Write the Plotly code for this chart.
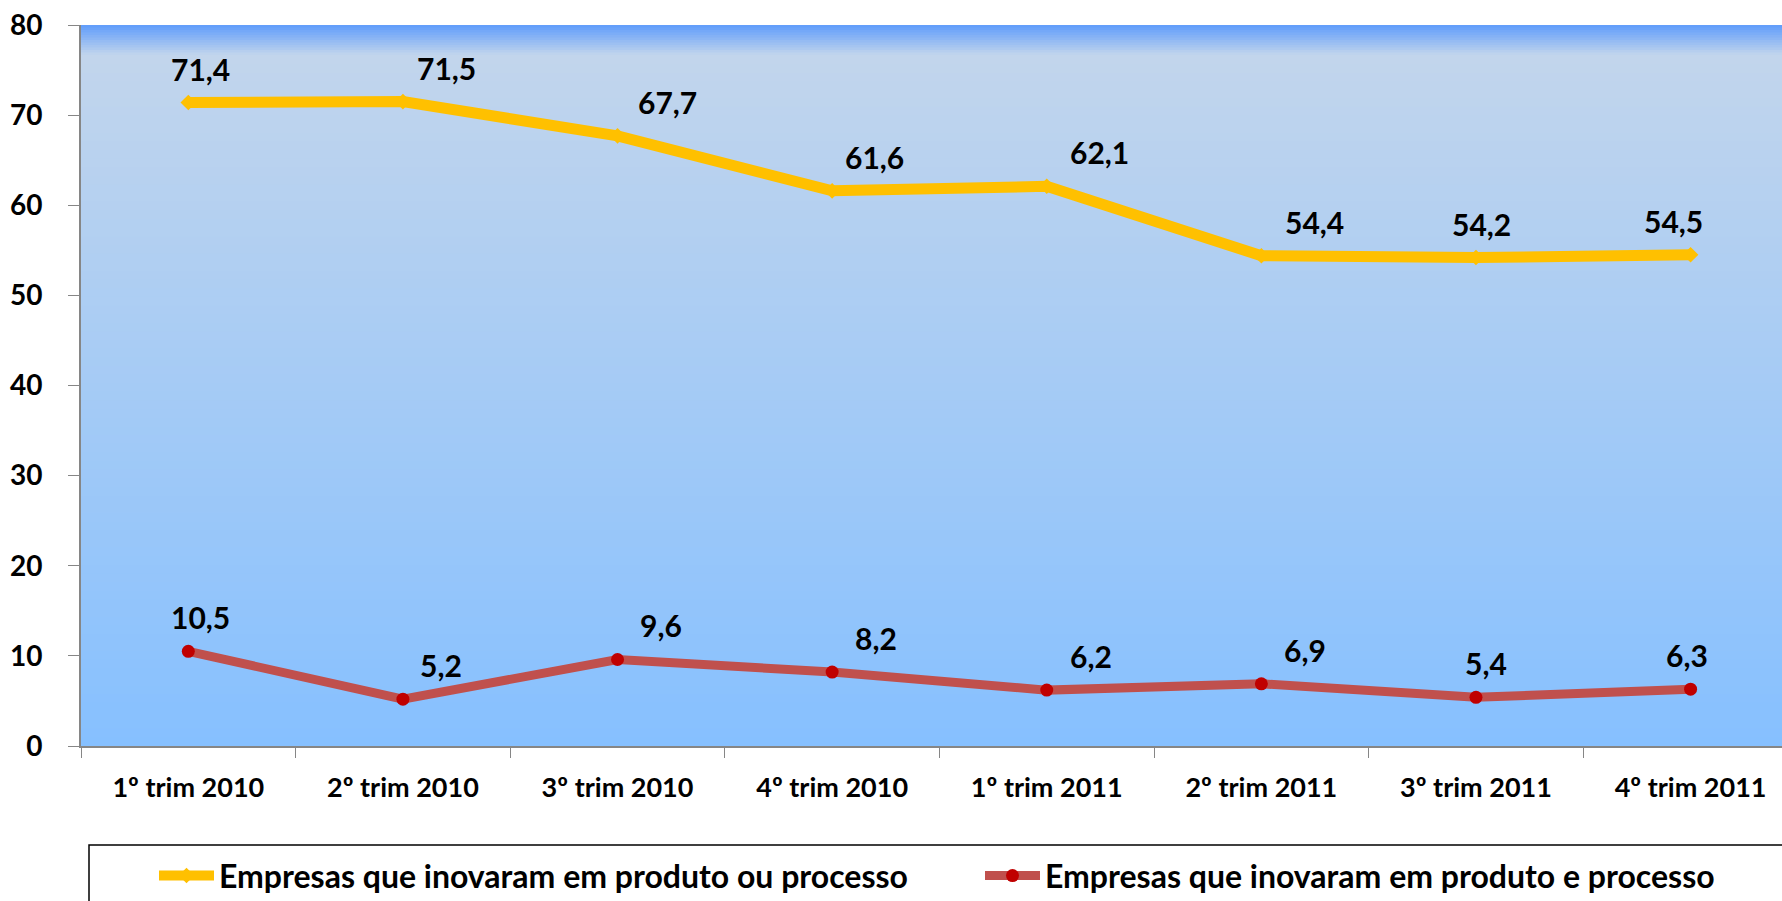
import plotly.graph_objects as go

categories = ["1º trim 2010", "2º trim 2010", "3º trim 2010", "4º trim 2010",
              "1º trim 2011", "2º trim 2011", "3º trim 2011", "4º trim 2011"]
produto_ou_processo = [71.4, 71.5, 67.7, 61.6, 62.1, 54.4, 54.2, 54.5]
produto_e_processo = [10.5, 5.2, 9.6, 8.2, 6.2, 6.9, 5.4, 6.3]
name_ou = "Empresas que inovaram em produto ou processo"
name_e = "Empresas que inovaram em produto e processo"

FONT = "Lato"
YELLOW, RED_LINE, RED_MARK = "#FFC000", "#C0504D", "#C00000"

# label placement styles (anchor, horizontal shift in px)
label_style_ou = [("center", 12), ("left", 12), ("left", 18), ("left", 11),
                  ("left", 21), ("left", 22), ("center", 6), ("center", -17)]
label_style_e = [("center", 12), ("left", 15), ("left", 20), ("left", 21),
                 ("left", 21), ("left", 21), ("center", 10), ("center", -4)]

def fmt(v):
    return f"{v:.1f}".replace(".", ",")

fig = go.Figure()
fig.add_trace(go.Scatter(
    x=categories, y=produto_ou_processo, name=name_ou, legend="legend",
    mode="lines+markers",
    line=dict(color=YELLOW, width=11),
    marker=dict(color=YELLOW, size=12, symbol="diamond"),
))
fig.add_trace(go.Scatter(
    x=categories, y=produto_e_processo, name=name_e, legend="legend2",
    mode="lines+markers",
    line=dict(color=RED_LINE, width=9),
    marker=dict(color=RED_MARK, size=13, symbol="circle"),
))

annotations = []
for values, styles in ((produto_ou_processo, label_style_ou), (produto_e_processo, label_style_e)):
    for x, v, (anchor, dx) in zip(categories, values, styles):
        annotations.append(dict(
            x=x, y=v, xref="x", yref="y", text=fmt(v), showarrow=False,
            xanchor=anchor, yanchor="bottom", xshift=dx, yshift=14,
            font=dict(family=FONT, size=30, color="black", weight="bold"),
        ))

# background gradient strips
def lerp(c1, c2, t):
    a = [int(c1[i:i+2], 16) for i in (1, 3, 5)]
    b = [int(c2[i:i+2], 16) for i in (1, 3, 5)]
    return "#%02x%02x%02x" % tuple(round(a[k] + (b[k] - a[k]) * t) for k in range(3))

shapes = []
split = 1 - 30 / 721
n1, n2 = 12, 80
for i in range(n1):
    y1 = 1 - (1 - split) * i / n1
    y0 = 1 - (1 - split) * (i + 1) / n1
    shapes.append(dict(type="rect", xref="paper", yref="paper", x0=0, x1=1, y0=y0 - 0.002, y1=y1,
                       fillcolor=lerp("#5F9CFB", "#C2D5EC", (i + 0.5) / n1), line=dict(width=0), layer="below"))
for i in range(n2):
    y1 = split - split * i / n2
    y0 = split - split * (i + 1) / n2
    shapes.append(dict(type="rect", xref="paper", yref="paper", x0=0, x1=1, y0=max(0, y0 - 0.002), y1=y1,
                       fillcolor=lerp("#C2D5EC", "#86C0FF", (i + 0.5) / n2), line=dict(width=0), layer="below"))
# legend box
shapes.append(dict(type="rect", xref="paper", yref="paper", x0=(89 - 81) / 1701, x1=1.2,
                   y0=-0.5, y1=-(845 - 746) / 721, line=dict(color="black", width=1.5), fillcolor="rgba(0,0,0,0)"))

legend_font = dict(family=FONT, size=32, color="black", weight="bold")
fig.update_layout(
    width=1782, height=901,
    margin=dict(l=81, r=0, t=25, b=155),
    paper_bgcolor="white", plot_bgcolor="rgba(0,0,0,0)",
    shapes=shapes, annotations=annotations,
    showlegend=True,
    legend=dict(orientation="h", xref="container", yref="container", x=154 / 1782, y=0.028,
                xanchor="left", yanchor="middle", font=legend_font,
                bgcolor="rgba(0,0,0,0)", itemwidth=55),
    legend2=dict(orientation="h", xref="container", yref="container", x=980 / 1782, y=0.028,
                 xanchor="left", yanchor="middle", font=legend_font,
                 bgcolor="rgba(0,0,0,0)", itemwidth=55),
    xaxis=dict(type="category", categoryorder="array", categoryarray=categories,
               range=[-0.5, 7.426], tickson="boundaries", ticks="outside", ticklen=10, tickcolor="#868686",
               showline=True, linecolor="#868686", linewidth=2, showgrid=False, zeroline=False,
               tickfont=dict(family=FONT, size=27, color="black", weight="bold"), ticklabelstandoff=17),
    yaxis=dict(range=[0, 80], dtick=10, ticks="outside", ticklen=11, tickcolor="#868686",
               showline=True, linecolor="#868686", linewidth=2, showgrid=False, zeroline=False,
               tickfont=dict(family=FONT, size=28, color="black", weight="bold"), ticklabelstandoff=20),
)

fig.write_html("out.html", config={"displayModeBar": False},
               post_script="document.body.style.margin='0';document.body.style.overflow='hidden';")
